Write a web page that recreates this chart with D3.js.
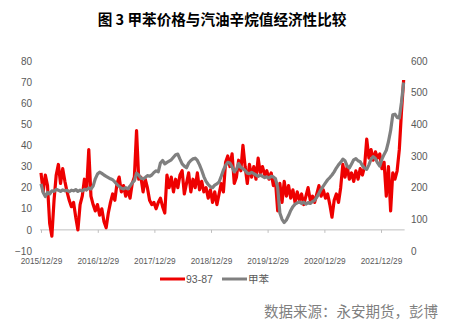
<!DOCTYPE html>
<html>
<head>
<meta charset="utf-8">
<script src="https://cdn.jsdelivr.net/npm/d3@7"></script>
<style>
  html, body { margin: 0; padding: 0; background: #ffffff; }
  svg { display: block; }
</style>
</head>
<body>
<svg id="chart" width="453" height="329"></svg>
<script>
// ---- Data ----
const chartTitle = "图 3 甲苯价格与汽油辛烷值经济性比较";
const sourceNote = "数据来源：永安期货，彭博";
const seriesNames = ["93-87", "甲苯"];
const xTickLabels = ["2015/12/29", "2016/12/29", "2017/12/29", "2018/12/29",
                     "2019/12/29", "2020/12/29", "2021/12/29"];
const leftTicks = [-10, 0, 10, 20, 30, 40, 50, 60, 70, 80];
const rightTicks = [0, 100, 200, 300, 400, 500, 600];

// Fortnightly observations starting 2015/12/29
const firstDate = "2015/12/29";
const stepDays = 14;

// 93#-87# gasoline spread (left axis)
const spread93_87 = [
  27, 18, 26, 21, 3, -3, 14, 26, 31, 22,
  29, 23, 18, 14, 11, 13, 6, 0, 12, 16,
  24, 19, 38, 16, 12, 9, 12, 7, 10, 4,
  1, 8, 13, 17, 14, 22, 25, 18, 21, 16,
  19, 15, 22, 25, 47, 24, 25, 18, 24, 20,
  14, 12, 13, 10, 13, 15, 11, 8, 26, 20,
  25, 18, 24, 20, 26, 28, 17, 22, 27, 18,
  24, 20, 27, 19, 23, 18, 20, 15, 19, 13,
  18, 12, 17, 22, 18, 32, 35, 30, 36, 22,
  25, 33, 28, 40, 30, 22, 31, 25, 30, 24,
  34, 27, 30, 26, 28, 24, 27, 21, 23, 9,
  22, 13, 23, 16, 21, 15, 19, 13, 18, 14,
  17, 12, 16, 20, 14, 16, 13, 17, 21, 16,
  19, 15, 17, 12, 6, 14, 17, 13, 20, 31,
  25, 30, 24, 27, 23, 28, 24, 29, 26, 30,
  43, 34, 38, 33, 37, 34, 36, 29, 32, 16,
  30, 9, 27, 24, 28, 38, 56, 71
];

// Toluene price spread (right axis)
const toluene = [
  212, 185, 172, 185, 180, 190, 188, 195, 192, 188,
  193, 190, 192, 187, 192, 190, 194, 188, 192, 189,
  195, 193, 199, 196, 205, 228, 243, 249, 245, 240,
  236, 232, 228, 225, 218, 210, 204, 198, 196, 200,
  196, 205, 215, 222, 246, 240, 230, 228, 232, 238,
  236, 240, 248, 253, 250, 278, 286, 275, 280, 284,
  288, 296, 304, 306, 290, 275, 268, 263, 278, 286,
  291, 293, 286, 272, 255, 235, 220, 210, 203, 200,
  208, 212, 218, 236, 256, 270, 280, 278, 266, 250,
  258, 276, 264, 260, 254, 246, 244, 248, 244, 240,
  236, 240, 236, 232, 234, 230, 236, 234, 228, 200,
  120, 100, 90, 98, 112, 128, 140, 148, 152, 155,
  150, 154, 148, 153, 150, 156, 160, 170, 182, 195,
  205, 215, 225, 232, 240, 250, 262, 272, 280, 290,
  285, 268, 262, 275, 288, 292, 285, 282, 270, 262,
  258, 272, 290, 298, 292, 278, 268, 290, 305, 318,
  345, 380, 430, 432, 422, 420, 470, 532
];

// ---- Chart ----
const colors = ["#ee0000", "#808080"];
const textColor = "#595959";
const svg = d3.select("#chart");

const parse = d3.timeParse("%Y/%m/%d");
const fmt = d3.timeFormat("%Y/%m/%d");
const dates = spread93_87.map((_, i) => d3.timeDay.offset(parse(firstDate), i * stepDays));

const x = d3.scaleTime()
  .domain([parse(xTickLabels[0]), parse(xTickLabels[xTickLabels.length - 1])])
  .range([41, 381]);
const yL = d3.scaleLinear().domain([-10, 80]).range([251, 61]);
const yR = d3.scaleLinear().domain([0, 600]).range([251, 61]);

// Title
svg.append("text")
  .attr("x", 222).attr("y", 24.5)
  .attr("text-anchor", "middle")
  .attr("font-family", "'Noto Sans CJK SC', sans-serif")
  .attr("font-weight", "bold")
  .attr("font-size", 14.6)
  .attr("fill", "#000")
  .text(chartTitle);

// Left axis labels
const gL = svg.append("g").attr("transform", "translate(33,0)")
  .call(d3.axisLeft(yL).tickValues(leftTicks).tickSize(0).tickPadding(1));
gL.select(".domain").remove();
gL.selectAll("text")
  .attr("font-family", "'Liberation Sans', Arial, sans-serif")
  .attr("font-size", 10).attr("fill", textColor);

// Right axis labels
const gR = svg.append("g").attr("transform", "translate(410,0)")
  .call(d3.axisRight(yR).tickValues(rightTicks).tickSize(0).tickPadding(1));
gR.select(".domain").remove();
gR.selectAll("text")
  .attr("font-family", "'Liberation Sans', Arial, sans-serif")
  .attr("font-size", 10).attr("fill", textColor);

// Bottom axis at the left-axis zero line
const gX = svg.append("g").attr("transform", `translate(0,${yL(0)})`)
  .call(d3.axisBottom(x).tickValues(xTickLabels.map(parse)).tickFormat(fmt)
    .tickSize(3).tickPadding(25.5));
gX.select(".domain").remove();
gX.selectAll(".tick line").attr("stroke", "#bfbfbf");
gX.selectAll("text")
  .attr("font-family", "'Liberation Sans', Arial, sans-serif")
  .attr("font-size", 8.3).attr("fill", textColor);
gX.append("line")
  .attr("x1", x(dates[0]) - 1).attr("x2", x(dates[dates.length - 1]) + 1)
  .attr("y1", 0).attr("y2", 0)
  .attr("stroke", "#bfbfbf").attr("stroke-width", 1);

// Series lines (toluene drawn on top)
const lineL = d3.line().x((d, i) => x(dates[i])).y(d => yL(d));
const lineR = d3.line().x((d, i) => x(dates[i])).y(d => yR(d));

svg.append("path").datum(spread93_87)
  .attr("d", lineL)
  .attr("fill", "none").attr("stroke", colors[0])
  .attr("stroke-width", 3.2).attr("stroke-linejoin", "round");

svg.append("path").datum(toluene)
  .attr("d", lineR)
  .attr("fill", "none").attr("stroke", colors[1])
  .attr("stroke-width", 3.2).attr("stroke-linejoin", "round");

// Legend
const legend = svg.append("g").attr("transform", "translate(160,279)");
const legendX = [0, 62];
seriesNames.forEach((name, i) => {
  const g = legend.append("g").attr("transform", `translate(${legendX[i]},0)`);
  g.append("line").attr("x1", 0).attr("x2", 25).attr("y1", 0).attr("y2", 0)
    .attr("stroke", colors[i]).attr("stroke-width", 3);
  g.append("text").attr("x", 26).attr("y", 3.8)
    .attr("font-family", "'Liberation Sans', 'Noto Sans CJK SC', sans-serif")
    .attr("font-size", 10.5).attr("fill", textColor)
    .text(name);
});

// Source note
svg.append("text")
  .attr("x", 438).attr("y", 317)
  .attr("text-anchor", "end")
  .attr("font-family", "'Noto Sans CJK SC', sans-serif")
  .attr("font-size", 14.5)
  .attr("fill", "#7f7f7f")
  .text(sourceNote);
</script>
</body>
</html>
